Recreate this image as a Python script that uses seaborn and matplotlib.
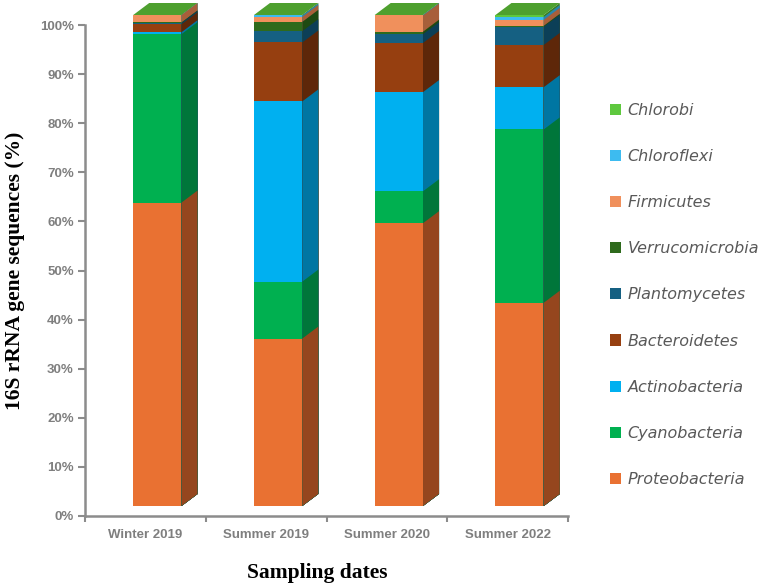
import numpy as np
import pandas as pd
import seaborn as sns
import matplotlib.pyplot as plt
from matplotlib.patches import Patch, Polygon
from matplotlib.transforms import ScaledTranslation, IdentityTransform

# Dados (% das sequências 16S rRNA por filo)
v_datas = ['Winter 2019', 'Summer 2019', 'Summer 2020', 'Summer 2022']

v_proteobacteria = [61.8, 34.1, 57.6, 41.4]
v_cyanobacteria = [34.3, 11.6, 6.5, 35.3]
v_actinobacteria = [0.4, 36.7, 20.2, 8.6]
v_bacteroidetes = [1.6, 12.0, 10.0, 8.6]
v_plantomycetes = [0.3, 2.3, 1.8, 3.7]
v_verrucomicrobia = [0.1, 1.9, 0.5, 0.2]
v_firmicutes = [1.5, 1.0, 3.3, 1.2]
v_chloroflexi = [0.0, 0.3, 0.1, 0.6]
v_chlorobi = [0.0, 0.1, 0.0, 0.4]

v_filos = ['Proteobacteria', 'Cyanobacteria', 'Actinobacteria', 'Bacteroidetes',
           'Plantomycetes', 'Verrucomicrobia', 'Firmicutes', 'Chloroflexi', 'Chlorobi']

df = pd.DataFrame({
    'Proteobacteria': v_proteobacteria,
    'Cyanobacteria': v_cyanobacteria,
    'Actinobacteria': v_actinobacteria,
    'Bacteroidetes': v_bacteroidetes,
    'Plantomycetes': v_plantomycetes,
    'Verrucomicrobia': v_verrucomicrobia,
    'Firmicutes': v_firmicutes,
    'Chloroflexi': v_chloroflexi,
    'Chlorobi': v_chlorobi,
}, index=v_datas)
df_acum = df.cumsum(axis=1)

# Cores: face frontal / face lateral
v_cor_frente = {
    'Proteobacteria': '#E97132', 'Cyanobacteria': '#00B050', 'Actinobacteria': '#00B0F0',
    'Bacteroidetes': '#963F10', 'Plantomycetes': '#156082', 'Verrucomicrobia': '#2E6A1C',
    'Firmicutes': '#F0905C', 'Chloroflexi': '#3DBBF0', 'Chlorobi': '#5EC83E',
}
v_cor_lado = {
    'Proteobacteria': '#95461E', 'Cyanobacteria': '#00763A', 'Actinobacteria': '#0076A2',
    'Bacteroidetes': '#5E2709', 'Plantomycetes': '#0C3F57', 'Verrucomicrobia': '#1E4A12',
    'Firmicutes': '#A85F3A', 'Chloroflexi': '#2886AD', 'Chlorobi': '#3B7D22',
}
v_cor_topo = '#4EA02F'

sns.set_theme(style='white')
plt.rcParams['font.family'] = ['DejaVu Sans']

fig = plt.figure(figsize=(7.67, 5.87), dpi=100)
ax = fig.add_axes([85 / 767, 1 - 516 / 587, (568 - 85) / 767, (516 - 25) / 587])

# deslocamento da face frontal (efeito 3D) e profundidade, em pixels
v_desl = ax.transData + ScaledTranslation(12 / 100, 10 / 100, fig.dpi_scale_trans)
v_dx, v_dy = 16, 12

# barras empilhadas: do acumulado maior para o menor
v_camadas = []
for filo in reversed(v_filos):
    n0 = len(ax.patches)
    sns.barplot(x=v_datas, y=df_acum[filo].values, color=v_cor_frente[filo], width=0.4,
                saturation=1, errorbar=None, linewidth=0, edgecolor='none', ax=ax)
    v_camadas.append((filo, ax.patches[n0:]))

ax.set_xlim(-0.5, 3.5)
ax.set_ylim(0, 100)

for i, (filo, patches) in enumerate(v_camadas):
    for p in patches:
        p.set_transform(v_desl)
        p.set_clip_on(False)
        bb = p.get_window_extent()
        lado = Polygon([(bb.x1, bb.y0), (bb.x1 + v_dx, bb.y0 + v_dy),
                        (bb.x1 + v_dx, bb.y1 + v_dy), (bb.x1, bb.y1)],
                       closed=True, transform=IdentityTransform(), facecolor=v_cor_lado[filo],
                       edgecolor='none', clip_on=False, zorder=2 + i * 0.01)
        fig.add_artist(lado)
        if i == 0:
            topo = Polygon([(bb.x0, bb.y1), (bb.x0 + v_dx, bb.y1 + v_dy),
                            (bb.x1 + v_dx, bb.y1 + v_dy), (bb.x1, bb.y1)],
                           closed=True, transform=IdentityTransform(), facecolor=v_cor_topo,
                           edgecolor='none', clip_on=False, zorder=2)
            fig.add_artist(topo)

# eixos
v_cinza = '#8C8C8C'
sns.despine(ax=ax)
for s in ['left', 'bottom']:
    ax.spines[s].set_color(v_cinza)
    ax.spines[s].set_linewidth(1.8)

ax.set_yticks(np.arange(0, 101, 10))
ax.set_yticklabels([f'{v}%' for v in range(0, 101, 10)])
ax.set_xticks(range(len(v_datas)))
ax.set_xticklabels(v_datas)
ax.set_xticks(np.arange(-0.5, 4, 1), minor=True)
ax.tick_params(axis='y', length=5, width=1.5, color=v_cinza, labelcolor='#7F7F7F', pad=3,
               left=True)
ax.tick_params(axis='x', which='major', length=0, labelcolor='#7F7F7F', pad=9)
ax.tick_params(axis='x', which='minor', length=4, width=1.5, color=v_cinza, bottom=True)
for t in ax.get_xticklabels() + ax.get_yticklabels():
    t.set_fontfamily('Liberation Sans')
    t.set_fontweight('bold')
    t.set_fontsize(9.5)

ax.set_ylabel('16S rRNA gene sequences (%)', family='Liberation Serif', fontweight='bold',
              fontsize=15.5, color='black')
ax.yaxis.set_label_coords(-0.125, 0.5)
ax.set_xlabel('Sampling dates', family='Liberation Serif', fontweight='bold',
              fontsize=15.5, color='black')
ax.xaxis.set_label_coords(0.48, -0.095)

# legenda (Chlorobi no topo)
v_handles = [Patch(facecolor=v_cor_frente[f], edgecolor='none') for f in reversed(v_filos)]
fig.legend(v_handles, list(reversed(v_filos)), loc='center left',
           bbox_to_anchor=(602 / 767, 1 - 295 / 587), frameon=False,
           handlelength=0.7, handleheight=0.7, handletextpad=0.4, labelspacing=1.95,
           borderpad=0, prop={'style': 'italic', 'size': 11.5}, labelcolor='#595959')

fig.savefig('out.png', dpi=100)
